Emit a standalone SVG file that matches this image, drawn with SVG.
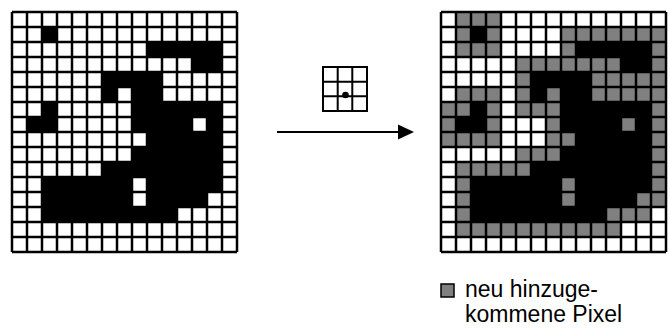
<svg xmlns="http://www.w3.org/2000/svg" xmlns:xlink="http://www.w3.org/1999/xlink" width="670" height="329" viewBox="0 0 670 329">
  <style>
    .b { fill: #000; }
    .g { fill: #808080; }
    .lines { fill: none; stroke: #000; stroke-width: 2.5; vector-effect: non-scaling-stroke; }
    .se { fill: none; stroke: #000; stroke-width: 2; }
    .txt { font-family: "Liberation Sans", Arial, sans-serif; font-size: 23px; fill: #000; }
  </style>
  <defs>
    <!-- 15 x 16 cell raster, in cell units -->
    <g id="black-cells" class="b">
      <rect x="2" y="1" width="1" height="1"/>
      <rect x="9" y="2" width="5" height="1"/>
      <rect x="12" y="3" width="2" height="1"/>
      <rect x="6" y="4" width="4" height="1"/>
      <rect x="6" y="5" width="1" height="1"/>
      <rect x="8" y="5" width="2" height="1"/>
      <rect x="2" y="6" width="1" height="1"/>
      <rect x="8" y="6" width="6" height="1"/>
      <rect x="1" y="7" width="2" height="1"/>
      <rect x="8" y="7" width="4" height="1"/>
      <rect x="13" y="7" width="1" height="1"/>
      <rect x="9" y="8" width="5" height="1"/>
      <rect x="8" y="9" width="6" height="1"/>
      <rect x="6" y="10" width="8" height="1"/>
      <rect x="2" y="11" width="6" height="1"/>
      <rect x="9" y="11" width="5" height="1"/>
      <rect x="2" y="12" width="6" height="1"/>
      <rect x="9" y="12" width="4" height="1"/>
      <rect x="2" y="13" width="9" height="1"/>
    </g>
    <g id="grid-lines">
      <path class="lines" d="M0 0V16M1 0V16M2 0V16M3 0V16M4 0V16M5 0V16M6 0V16M7 0V16M8 0V16M9 0V16M10 0V16M11 0V16M12 0V16M13 0V16M14 0V16M15 0V16
        M0 0H15M0 1H15M0 2H15M0 3H15M0 4H15M0 5H15M0 6H15M0 7H15M0 8H15M0 9H15M0 10H15M0 11H15M0 12H15M0 13H15M0 14H15M0 15H15M0 16H15"/>
    </g>
  </defs>

  <!-- original binary image -->
  <g id="grid-original" transform="translate(12,12) scale(15)">
    <rect x="0" y="0" width="15" height="16" fill="#fff"/>
    <use xlink:href="#black-cells"/>
    <use xlink:href="#grid-lines"/>
  </g>

  <!-- 3x3 structuring element with its reference point -->
  <g id="structuring-element">
    <rect x="323" y="67" width="44" height="44" fill="#fff"/>
    <path class="se" d="M323 67H367V111H323Z M337.7 67V111 M352.3 67V111 M323 81.7H367 M323 96.3H367"/>
    <circle cx="345.5" cy="95" r="3.3" fill="#000"/>
  </g>

  <!-- dilated image: original pixels plus newly added ones -->
  <g id="grid-dilated" transform="translate(441,12) scale(15)">
    <rect x="0" y="0" width="15" height="16" fill="#fff"/>
    <g class="g">
      <rect x="1" y="0" width="3" height="1"/>
      <rect x="1" y="1" width="1" height="1"/>
      <rect x="3" y="1" width="1" height="1"/>
      <rect x="8" y="1" width="7" height="1"/>
      <rect x="1" y="2" width="3" height="1"/>
      <rect x="8" y="2" width="1" height="1"/>
      <rect x="14" y="2" width="1" height="1"/>
      <rect x="5" y="3" width="7" height="1"/>
      <rect x="14" y="3" width="1" height="1"/>
      <rect x="5" y="4" width="1" height="1"/>
      <rect x="10" y="4" width="5" height="1"/>
      <rect x="1" y="5" width="3" height="1"/>
      <rect x="5" y="5" width="1" height="1"/>
      <rect x="7" y="5" width="1" height="1"/>
      <rect x="10" y="5" width="5" height="1"/>
      <rect x="0" y="6" width="2" height="1"/>
      <rect x="3" y="6" width="1" height="1"/>
      <rect x="5" y="6" width="3" height="1"/>
      <rect x="14" y="6" width="1" height="1"/>
      <rect x="0" y="7" width="1" height="1"/>
      <rect x="3" y="7" width="1" height="1"/>
      <rect x="7" y="7" width="1" height="1"/>
      <rect x="12" y="7" width="1" height="1"/>
      <rect x="14" y="7" width="1" height="1"/>
      <rect x="0" y="8" width="4" height="1"/>
      <rect x="7" y="8" width="2" height="1"/>
      <rect x="14" y="8" width="1" height="1"/>
      <rect x="5" y="9" width="3" height="1"/>
      <rect x="14" y="9" width="1" height="1"/>
      <rect x="1" y="10" width="5" height="1"/>
      <rect x="14" y="10" width="1" height="1"/>
      <rect x="1" y="11" width="1" height="1"/>
      <rect x="8" y="11" width="1" height="1"/>
      <rect x="14" y="11" width="1" height="1"/>
      <rect x="1" y="12" width="1" height="1"/>
      <rect x="8" y="12" width="1" height="1"/>
      <rect x="13" y="12" width="2" height="1"/>
      <rect x="1" y="13" width="1" height="1"/>
      <rect x="11" y="13" width="3" height="1"/>
      <rect x="1" y="14" width="11" height="1"/>
    </g>
    <use xlink:href="#black-cells"/>
    <use xlink:href="#grid-lines"/>
  </g>

  <!-- legend -->
  <g id="legend">
    <rect x="441" y="284" width="13" height="13" fill="#808080" stroke="#000" stroke-width="1.5"/>
    <text class="txt" x="465" y="297">neu hinzuge-</text>
    <text class="txt" x="465" y="322">kommene Pixel</text>
  </g>

  <g id="connectors">
    <line x1="277" y1="132" x2="400" y2="132" stroke="#000" stroke-width="2"/>
    <polygon points="398,124.5 414,132 398,139.5" fill="#000"/>
  </g>
</svg>
